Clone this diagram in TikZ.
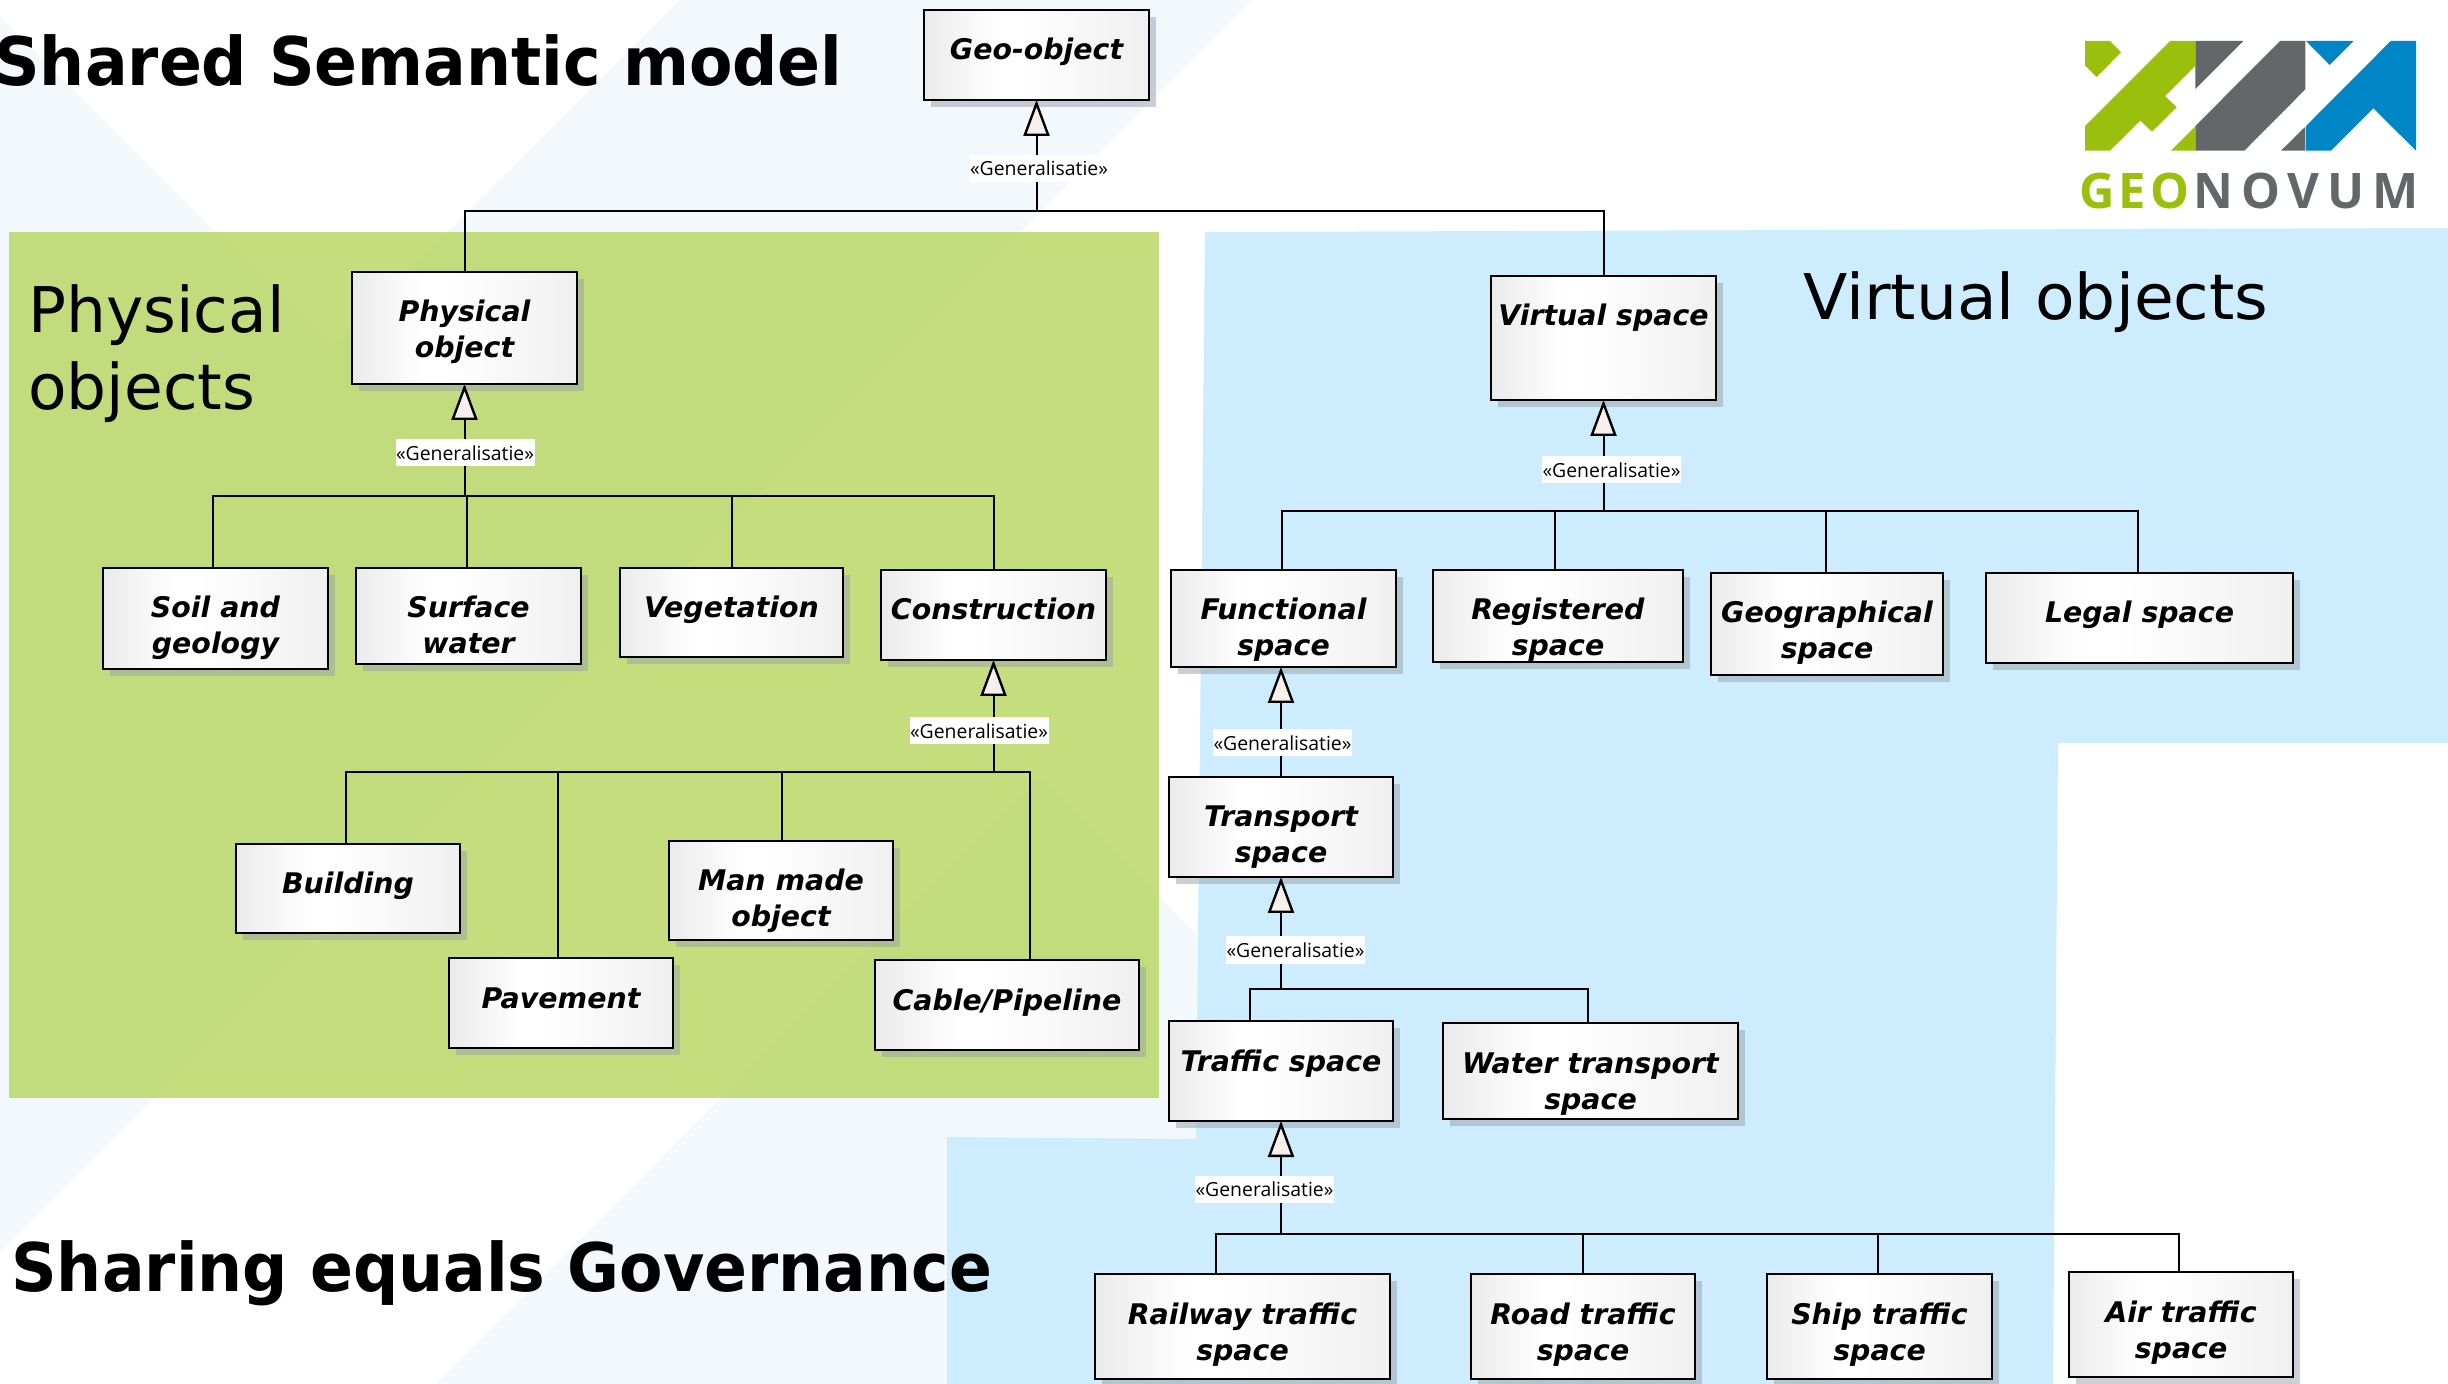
\documentclass[tikz,border=0pt]{standalone}
\usepackage{fontspec}
\setmainfont{DejaVu Sans}
\newfontfamily\genfont{Open Sans}
\newfontfamily\logofont{Open Sans}
\usetikzlibrary{arrows.meta,shadows}
\definecolor{bandblue}{HTML}{F3F8FD}
\definecolor{skyblue}{HTML}{CDEDFE}
\definecolor{greenbase}{HTML}{B2D252}
\definecolor{trifill}{HTML}{F6EFEB}
\definecolor{shadowgrey}{HTML}{98A0A8}
\definecolor{logogreen}{HTML}{9ABF0C}
\definecolor{logogrey}{HTML}{63676A}
\definecolor{logoblue}{HTML}{0086C7}
\pgfdeclarehorizontalshading{umlfill}{100bp}{color(0bp)=(black!8);color(25bp)=(black!8);color(41bp)=(white);color(46bp)=(white);color(75bp)=(black!6);color(100bp)=(black!6)}
\tikzset{
  umlbox/.style={draw=black,line width=1.35pt,inner sep=0pt,outer sep=0pt,
    shading=umlfill,
    general shadow={shadow xshift=3.5pt,shadow yshift=-3.5pt,fill=shadowgrey,opacity=.5}},
  conn/.style={draw=black,line width=1pt},
  gen/.style={conn,-{Triangle[length=18pt,width=13pt,fill=trifill,line width=1.2pt]}},
  genlabel/.style={fill=white,inner sep=0pt,minimum width=69.5pt,minimum height=13.5pt,font=\genfont\fontsize{9.7}{11}\selectfont},
  heading/.style={anchor=base west,inner sep=0pt,font=\bfseries\addfontfeature{FakeStretch=0.945}\fontsize{33.5}{40}\selectfont},
  big/.style={anchor=base west,inner sep=0pt,font=\fontsize{31.5}{38}\selectfont},
  bigwide/.style={anchor=base west,inner sep=0pt,font=\addfontfeature{FakeStretch=1.027}\fontsize{31.5}{38}\selectfont},
}
\newcommand{\umlnode}[6]{%
  \pgfmathsetmacro{\nw}{(#4-#2)/2}\pgfmathsetmacro{\nh}{(#5-#3)/2}%
  \node[umlbox] (#1) at ({(#2+#4)/2},{(#3+#5)/2})
    {\parbox[c][\nh pt][t]{\nw pt}{\centering\bfseries\itshape\fontsize{14.2}{18}\selectfont\rule{0pt}{25pt}#6}};}
\begin{document}
\begin{tikzpicture}[x=0.5pt,y=-0.5pt]
\useasboundingbox (0,0) rectangle (2448,1384);
\clip (0,0) rectangle (2448,1384);
% background bands
\fill[bandblue] (0,17) -- (331,348) -- (680,0) -- (1252,0) -- (0,1252) -- cycle;
\fill[bandblue] (1040,778) -- (436,1384) -- (1647,1384) -- cycle;
% coloured panels
\fill[greenbase,opacity=.75] (9,232) rectangle (1159,1098);
\fill[skyblue] (1205,232) -- (2448,228) -- (2448,743) -- (2058,743) -- (2053,1384) -- (947,1384) -- (947,1137) -- (1196,1139) -- cycle;
% titles
\node[heading] (t1) at (-6,86) {Shared Semantic model};
\node[heading] (t2) at (11,1291) {Sharing equals Governance};
\node[big] (t3) at (28,333) {Physical};
\node[big] (t4) at (28,410) {objects};
\node[bigwide] (t5) at (1803,320) {Virtual objects};
% logo
\begin{scope}[shift={(2000,0)},x=0.16667pt,y=-0.16667pt]
\fill[logogreen] (255,123)--(330,123)--(363,157)--(290,231)--(255,196)--cycle;
\fill[logogreen] (510,123)--(585,123)--(585,198)--(495,288)--(530,322)--(456,395)--(421,362)--(330,452)--(255,452)--(255,378)--cycle;
\fill[logogreen] (513,452)--(585,380)--(585,452)--cycle;
\fill[logogrey] (586,123)--(730,123)--(586,267)--cycle;
\fill[logogrey] (840,123)--(916,123)--(916,268)--(733,452)--(586,452)--(586,378)--cycle;
\fill[logogrey] (843,452)--(916,380)--(916,452)--cycle;
\fill[logoblue] (918,123)--(1061,123)--(989,195)--cycle;
\fill[logoblue] (1172,123)--(1248,123)--(1248,452)--(1120,325)--(993,452)--(918,452)--(918,378)--cycle;
\end{scope}
\node[anchor=base west,inner sep=0pt,text=logogreen,font={\logofont\bfseries\addfontfeature{LetterSpace=8}\fontsize{24.5}{30}\selectfont}] (lg1) at (2079,209) {GEO};
\node[anchor=base west,inner sep=0pt,text=logogrey,font={\logofont\bfseries\addfontfeature{LetterSpace=16}\fontsize{24.5}{30}\selectfont}] (lg2) at (2193,209) {NOVUM};
% nodes
\umlnode{geo}{924}{10}{1149}{100}{Geo-object}
\umlnode{phys}{352}{272}{577}{384}{Physical\\object}
\umlnode{virt}{1491}{276}{1716}{400}{Virtual space}
\umlnode{soil}{103}{568}{328}{669}{Soil and\\geology}
\umlnode{surf}{356}{568}{581}{664}{Surface\\water}
\umlnode{vege}{620}{568}{843}{657}{Vegetation}
\umlnode{cons}{881}{570}{1106}{660}{Construction}
\umlnode{func}{1171}{570}{1396}{667}{Functional\\space}
\umlnode{regi}{1433}{570}{1683}{662}{Registered\\space}
\umlnode{geog}{1711}{573}{1943}{675}{Geographical\\space}
\umlnode{lega}{1986}{573}{2293}{663}{Legal space}
\umlnode{tran}{1169}{777}{1393}{877}{Transport\\space}
\umlnode{buil}{236}{844}{460}{933}{Building}
\umlnode{mann}{669}{841}{893}{940}{Man made\\object}
\umlnode{pave}{449}{958}{673}{1048}{Pavement}
\umlnode{cabl}{875}{960}{1139}{1050}{Cable/Pipeline}
\umlnode{traf}{1169}{1021}{1393}{1121}{Traffic space}
\umlnode{watr}{1443}{1023}{1738}{1119}{Water transport\\space}
\umlnode{rail}{1095}{1274}{1390}{1379}{Railway traffic\\space}
\umlnode{road}{1471}{1274}{1695}{1379}{Road traffic\\space}
\umlnode{ship}{1767}{1274}{1992}{1379}{Ship traffic\\space}
\umlnode{airt}{2069}{1272}{2293}{1377}{Air traffic\\space}
% junctions on the spines
\coordinate (j1) at (1036.5,211);
\coordinate (j2) at (464.5,496);
\coordinate (j3) at (993.5,772);
\coordinate (j4) at (1603.5,511);
\coordinate (j5) at (1281,777);
\coordinate (j6) at (1281,989);
\coordinate (j7) at (1281,1234);
% generalisation arrows
\draw[gen] (j1) -- (geo.south);
\draw[gen] (j2) -- (phys.south);
\draw[gen] (j3) -- (cons.south);
\draw[gen] (j4) -- (virt.south);
\draw[gen] (j5) -- (j5 |- func.south);
\draw[gen] (j6) -- (j6 |- tran.south);
\draw[gen] (j7) -- (j7 |- traf.south);
% drops
\draw[conn] (j1) -| (phys.north);
\draw[conn] (j1) -| (virt.north);
\draw[conn] (j2) -| ([xshift=-1.25pt]soil.north);
\draw[conn] (j2) -| ([xshift=-.75pt]surf.north);
\draw[conn] (j2) -| (vege.north);
\draw[conn] (j2) -| (cons.north);
\draw[conn] (j3) -| ([xshift=-1.25pt]buil.north);
\draw[conn] (j3) -| ([xshift=-1.5pt]pave.north);
\draw[conn] (j3) -| ([xshift=.5pt]mann.north);
\draw[conn] (j3) -| ([xshift=11.5pt]cabl.north);
\draw[conn] (j4) -| ([xshift=-1pt]func.north);
\draw[conn] (j4) -| ([xshift=-1.5pt]regi.north);
\draw[conn] (j4) -| ([xshift=-.75pt]geog.north);
\draw[conn] (j4) -| ([xshift=-1pt]lega.north);
\draw[conn] (j6) -| ([xshift=-15.5pt]traf.north);
\draw[conn] (j6) -| ([xshift=-1.25pt]watr.north);
\draw[conn] (j7) -| ([xshift=-13.5pt]rail.north);
\draw[conn] (j7) -| (road.north);
\draw[conn] (j7) -| ([xshift=-1pt]ship.north);
\draw[conn] (j7) -| ([xshift=-1pt]airt.north);
% labels
\node[genlabel] (g1) at (1039,168.5) {«Generalisatie»};
\node[genlabel] (g2) at (465,453) {«Generalisatie»};
\node[genlabel] (g3) at (979,731) {«Generalisatie»};
\node[genlabel] (g4) at (1611.5,470) {«Generalisatie»};
\node[genlabel] (g5) at (1282.5,743) {«Generalisatie»};
\node[genlabel] (g6) at (1295.5,950) {«Generalisatie»};
\node[genlabel] (g7) at (1264.5,1189.5) {«Generalisatie»};
\end{tikzpicture}
\end{document}
